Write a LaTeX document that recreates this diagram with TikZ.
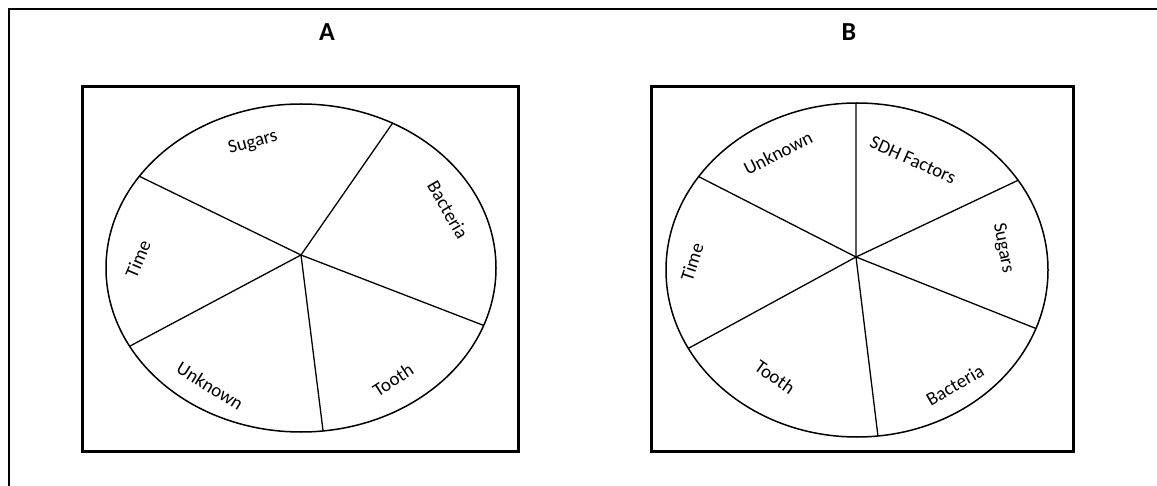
\documentclass[tikz,border=0pt]{standalone}
\usepackage{fontspec}
\setmainfont{Carlito}
\usetikzlibrary{calc}
\begin{document}
\begin{tikzpicture}[x=1pt,y=-1pt,
  frame/.style={line width=2pt},
  panel/.style={line width=3pt},
  rim/.style={line width=1.5pt},
  spoke/.style={line width=1.3pt},
  lbl/.style={font=\fontsize{19}{22}\selectfont, inner sep=0pt},
  ttl/.style={font=\fontsize{26}{30}\selectfont\bfseries, inner sep=0pt}]
\useasboundingbox (0,0) rectangle (1157,486);
% outer frame
\coordinate (o1) at (1157,9);
\coordinate (o2) at (9,9);
\coordinate (o3) at (9,486);
\draw[frame] (o1) -- (o2) -- (o3);
% titles
\node[ttl] (tA) at (327,32) {A};
\node[ttl] (tB) at (849,32) {B};
% ---------- panel A ----------
\draw[panel] (82,87) rectangle (518,451);
\coordinate (cA) at (301,268);
\draw[rim] (cA) ellipse [x radius=195, y radius=164];
\coordinate (hA) at (301,255);
\coordinate (a1) at ($(cA)+(-62:195 and 164)$);
\coordinate (a2) at ($(cA)+(-146:195 and 164)$);
\coordinate (a3) at ($(cA)+(151.5:195 and 164)$);
\coordinate (a4) at ($(cA)+(83.5:195 and 164)$);
\coordinate (a5) at ($(cA)+(20.5:195 and 164)$);
\foreach \p in {a1,a2,a3,a4,a5} \draw[spoke] (hA) -- (\p);
\node[lbl, rotate=15] (sA) at (253,143) {Sugars};
\node[lbl, rotate=-60] (bA) at (448,210) {Bacteria};
\node[lbl, rotate=67] (tiA) at (138,259) {Time};
\node[lbl, rotate=-32] (uA) at (210,386) {Unknown};
\node[lbl, rotate=33] (toA) at (393,380) {Tooth};
% ---------- panel B ----------
\draw[panel] (651,87) rectangle (1073,451);
\coordinate (cB) at (857,270);
\draw[rim] (cB) ellipse [x radius=191, y radius=167];
\coordinate (hB) at (856,257);
\coordinate (b1) at ($(cB)+(-90.3:191 and 167)$);
\coordinate (b2) at ($(cB)+(-32.5:191 and 167)$);
\coordinate (b3) at ($(cB)+(20.5:191 and 167)$);
\coordinate (b4) at ($(cB)+(83.7:191 and 167)$);
\coordinate (b5) at ($(cB)+(152:191 and 167)$);
\coordinate (b6) at ($(cB)+(-146:191 and 167)$);
\foreach \p in {b1,b2,b3,b4,b5,b6} \draw[spoke] (hB) -- (\p);
\node[lbl, rotate=27] (uB) at (778,153) {Unknown};
\node[lbl, rotate=-24] (sdB) at (913,160) {SDH Factors};
\node[lbl, rotate=-79] (sB) at (1003,248) {Sugars};
\node[lbl, rotate=72] (tiB) at (692,262) {Time};
\node[lbl, rotate=-35] (toB) at (775,377) {Tooth};
\node[lbl, rotate=30] (bB) at (955,385) {Bacteria};
\end{tikzpicture}
\end{document}
